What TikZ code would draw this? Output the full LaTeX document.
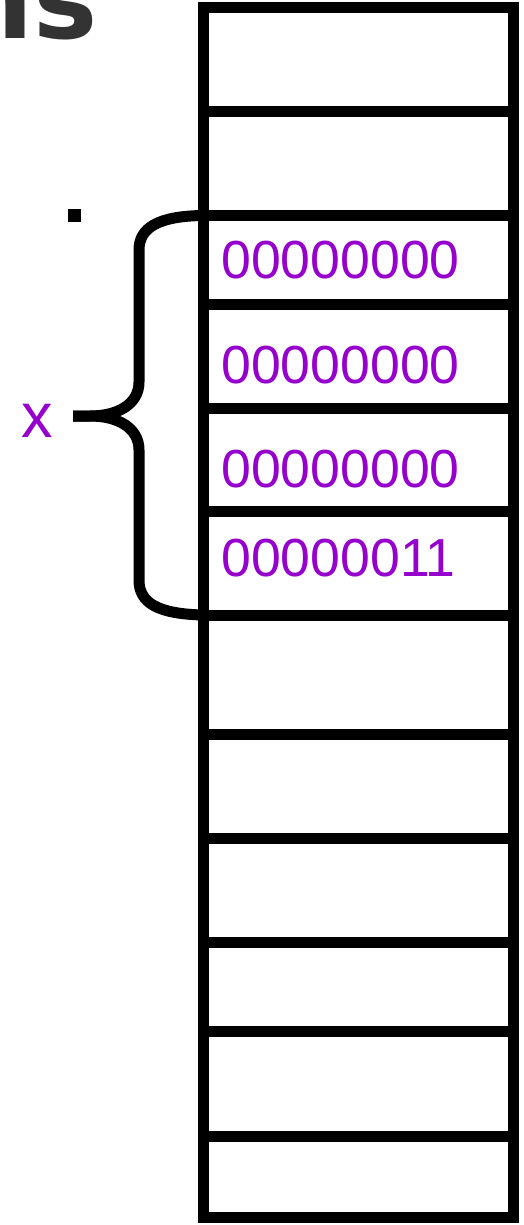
\documentclass[tikz,border=0pt]{standalone}
\usepackage{fontspec}
\setmainfont{Liberation Sans}
\newfontfamily\titlefont{DejaVu Sans}
\definecolor{bitpurple}{RGB}{150,0,205}
\definecolor{titlegray}{RGB}{51,51,51}
\tikzset{
  memcell/.style={draw=black, line width=11pt, rectangle, inner sep=0pt, outer sep=0pt,
    minimum width=309.5pt},
  bits/.style={anchor=base west, inner sep=0pt, text=bitpurple,
    font=\fontsize{53.6}{60}\selectfont},
  varname/.style={anchor=base west, inner sep=0pt, text=bitpurple,
    font=\fontsize{63}{70}\selectfont},
  brace/.style={draw=black, line width=11pt, line cap=butt, line join=round},
}
\begin{document}
\begin{tikzpicture}[x=1pt, y=-1pt]
  \useasboundingbox (0,0) rectangle (524,1225);
  \clip (0,0) rectangle (524,1225);

  % tail of the heading above the memory column
  \node[anchor=base west, inner sep=0pt, text=titlegray,
        font=\titlefont\bfseries\fontsize{108}{120}\selectfont] (heading) at (-44,39) {ns};

  % memory column: one box per byte, given as (centre y, height)
  \foreach \cy/\h [count=\i from 0] in {
      59.5/104, 163.5/104, 260/89, 356.5/104, 460/103, 563.25/103.5,
      674.5/119, 786/104, 890/104, 986.5/89, 1083.5/105, 1176.5/81} {
    \node[memcell, minimum height=\h pt] (c\i) at (358.25,\cy) {};
  }

  % the four bytes holding x
  \node[bits] (b2) at (221,278) {00000000};
  \node[bits] (b3) at (221,383) {00000000};
  \node[bits] (b4) at (221,487) {00000000};
  \node[bits] (b5) at (221,576) {00000011};

  % brace grouping the bytes of x: two halves meeting in a flat tip
  \coordinate (btop) at (c2.north west);
  \coordinate (bbot) at (c5.south west);
  \coordinate (btip) at (73,416);
  \draw[brace] (btop) .. controls (158,216) and (139,228) .. (139,250)
    -- (139,382) .. controls (139,404) and (118,416) .. (90,416) -- (btip);
  \draw[brace] (btip) -- (90,416) .. controls (118,416) and (139,428) .. (139,450)
    -- (139,580) .. controls (139,603) and (158,614) .. (bbot);

  \node[varname] (x) at (21.5,437) {x};

  % stray mark to the left
  \fill[black] (68,209) rectangle (81,222);
\end{tikzpicture}
\end{document}
